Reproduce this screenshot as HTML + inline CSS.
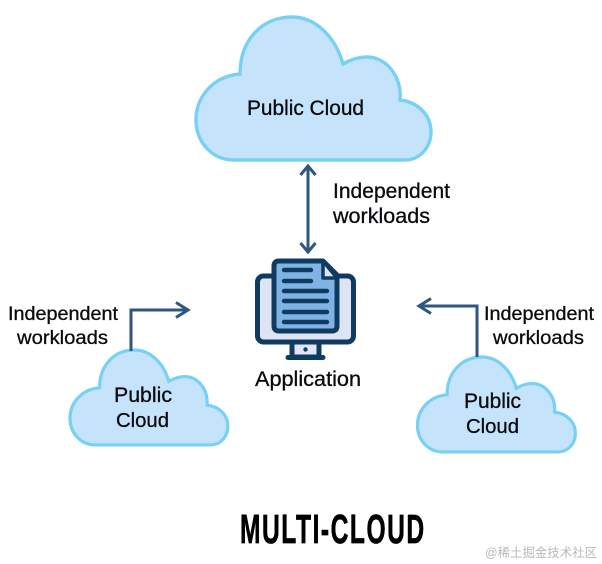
<!DOCTYPE html>
<html>
<head>
<meta charset="utf-8">
<style>
html,body{margin:0;padding:0;background:#fff;width:602px;height:564px;overflow:hidden}
svg{display:block}
text{font-family:"Liberation Sans","Noto Sans CJK SC",sans-serif;fill:#0b0b0f}
.l{stroke:#0b0b0f;stroke-width:.3}
</style>
</head>
<body>
<svg width="602" height="564" viewBox="0 0 602 564" xmlns="http://www.w3.org/2000/svg">
<defs>
<path id="c" d="M234 160H405C420 160 431 147 431 132C431 115 418 102 400 100C402 76 386 57 367 57C358 57 350 60 343 64C335 36 315 17 292 17C262 17 240 40 240 74C214 76 196 96 196 120C196 142 212 160 234 160Z"/>
</defs>
<rect width="602" height="564" fill="#fff"/>

<!-- clouds -->
<use href="#c" fill="#c5e4fb" stroke="#78d0f5" stroke-width="3.4"/>
<g transform="translate(70 350) scale(.672 .664) translate(-196 -17)"><use href="#c" fill="#c5e4fb" stroke="#78d0f5" stroke-width="4.8"/></g>
<g transform="translate(417.5 357) scale(.672 .664) translate(-196 -17)"><use href="#c" fill="#c5e4fb" stroke="#78d0f5" stroke-width="4.8"/></g>

<!-- connectors -->
<g fill="none" stroke="#2f5680" stroke-width="3">
<path d="M308 166V252"/>
<path d="M300.500 175L308 166L315.500 175"/>
<path d="M300.500 243L308 252L315.500 243"/>
<path d="M131 351V310H187"/>
<path d="M176 302.500L188 310L176 317.500"/>
<path d="M477 357V306H420"/>
<path d="M431 298.500L419 306L431 313.500"/>
</g>

<!-- monitor -->
<g stroke="#103b60" stroke-width="5" stroke-linejoin="round" stroke-linecap="round">
<rect x="292" y="341" width="27" height="16" fill="#e2e6f4"/>
<path d="M288 357.500H323" fill="none"/>
<rect x="257.500" y="276" width="96" height="66" rx="6" fill="#dfe4f3"/>
<path d="M279 261H323L337 275V326Q337 331 332 331H279Q274 331 274 326V266Q274 261 279 261Z" fill="#7fb3e3"/>
<path d="M323 261V278H337Z" fill="#dfe4f3" stroke-width="3.500"/>
<g fill="none" stroke-width="4.400">
<path d="M284 270H311"/>
<path d="M284 281H311"/>
<path d="M284 291H327"/>
<path d="M284 301H327"/>
<path d="M284 312H327"/>
<path d="M284 322H327"/>
</g>
</g>
<circle cx="305.500" cy="349.500" r="2.200" fill="#103b60"/>

<!-- labels -->
<text class="l" x="247" y="115" font-size="20.800" textLength="117" lengthAdjust="spacingAndGlyphs">Public Cloud</text>
<text class="l" x="333" y="198" font-size="21" textLength="117" lengthAdjust="spacingAndGlyphs">Independent</text>
<text class="l" x="333" y="223" font-size="21" textLength="97" lengthAdjust="spacingAndGlyphs">workloads</text>
<text class="l" x="8" y="320" font-size="19.800" textLength="110" lengthAdjust="spacingAndGlyphs">Independent</text>
<text class="l" x="17" y="344" font-size="19.800" textLength="91" lengthAdjust="spacingAndGlyphs">workloads</text>
<text class="l" x="484" y="320" font-size="19.800" textLength="110" lengthAdjust="spacingAndGlyphs">Independent</text>
<text class="l" x="493" y="344" font-size="19.800" textLength="91" lengthAdjust="spacingAndGlyphs">workloads</text>
<text class="l" x="114" y="402" font-size="21" textLength="58" lengthAdjust="spacingAndGlyphs">Public</text>
<text class="l" x="116" y="427" font-size="20.500" textLength="53" lengthAdjust="spacingAndGlyphs">Cloud</text>
<text class="l" x="464" y="408" font-size="21" textLength="57" lengthAdjust="spacingAndGlyphs">Public</text>
<text class="l" x="466" y="433" font-size="20.500" textLength="53" lengthAdjust="spacingAndGlyphs">Cloud</text>
<text class="l" x="255" y="386" font-size="21" textLength="106" lengthAdjust="spacingAndGlyphs">Application</text>
<text transform="translate(240 543) scale(.6 1)" x="0" y="0" font-size="41" font-weight="700" textLength="307" lengthAdjust="spacing" style="fill:#000;stroke:#000;stroke-width:.7">MULTI-CLOUD</text>
<text x="485" y="557" font-size="12.500" textLength="112" lengthAdjust="spacingAndGlyphs" style="fill:#b9b9b9">@稀土掘金技术社区</text>
</svg>
</body>
</html>
